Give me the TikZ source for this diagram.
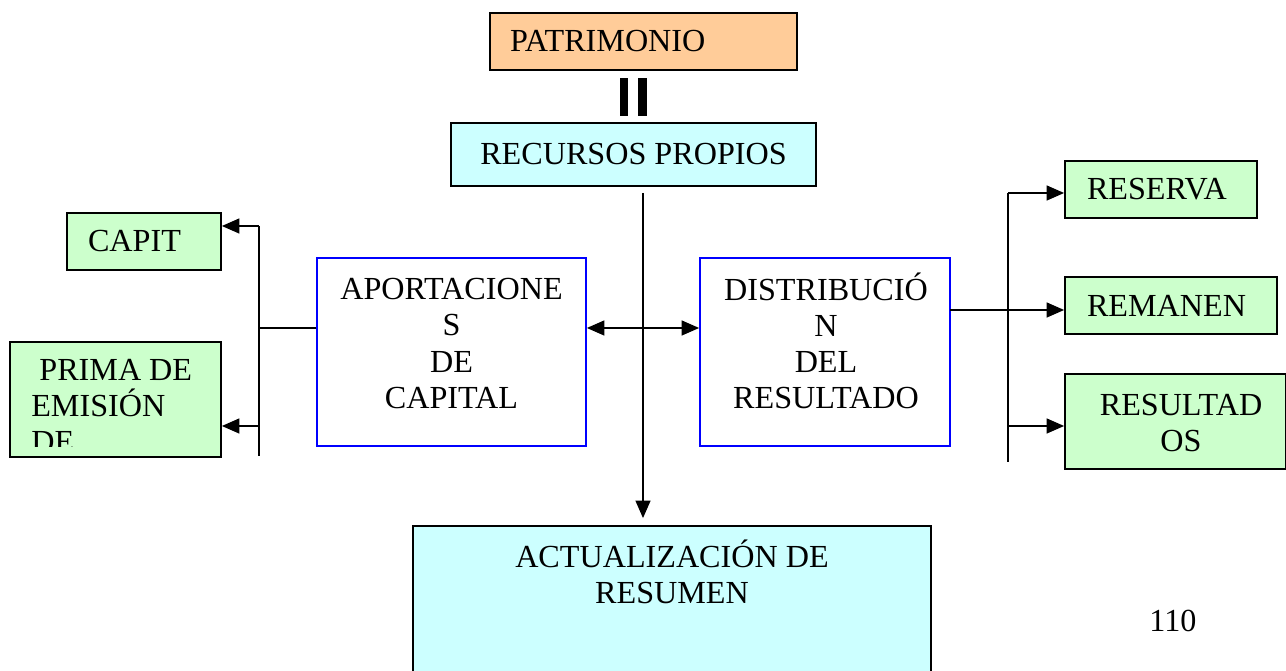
\documentclass[tikz,border=0pt]{standalone}
\usepackage{fontspec}
\setmainfont{Liberation Serif}
\usetikzlibrary{arrows.meta, positioning}
\definecolor{patrifill}{HTML}{FFCC99}
\definecolor{cianfill}{HTML}{CCFFFF}
\definecolor{verdefill}{HTML}{CCFFCC}
\tikzset{>={Triangle[length=10pt,width=8.5pt]}}
\tikzset{
  caja/.style={draw, line width=1pt, inner sep=0pt, font=\fontsize{18.3}{20.6}\selectfont},
  verde/.style={caja, fill=verdefill},
  azul/.style={draw=blue, line width=1pt, fill=white, inner sep=0pt},
  texto/.style={inner sep=0pt, align=center, font=\fontsize{18.3}{20.6}\selectfont},
  linea/.style={line width=1pt}
}

\begin{document}
\begin{tikzpicture}[x=0.02cm, y=-0.02cm]
    \useasboundingbox (0,0) rectangle (1286,671);

    % top
    \node[caja, fill=patrifill, minimum width=6.14cm, minimum height=1.14cm, text width=5.34cm, align=left] (patri) at (643.5,41.5) {PATRIMONIO};
    \fill (620,78) rectangle (628,116);
    \fill (638,78) rectangle (647,116);
    \node[caja, fill=cianfill, minimum width=7.3cm, minimum height=1.26cm] (recursos) at (633.5,154.5) {RECURSOS PROPIOS};

    % middle
    \node[azul, minimum width=5.38cm, minimum height=3.76cm] (aport) at (451.5,352) {};
    \node[texto] (aporttxt) at (451.5,343.5) {APORTACIONE\\S\\DE\\CAPITAL};
    \node[azul, minimum width=5cm, minimum height=3.76cm] (distrib) at (825,352) {};
    \node[texto] (distribtxt) at (826,341) {DISTRIBUCIÓ\\N\\DEL\\RESULTADO};

    % left
    \node[verde, minimum width=3.08cm, minimum height=1.14cm, text width=2.24cm, align=left] (capit) at (144,241.5) {CAPIT};
    \node[verde, minimum width=4.22cm, minimum height=2.3cm] (prima) at (115.5,399.5) {};
    \begin{scope}
    \clip (10,342) rectangle (221,447);
    \node[texto, align=left, anchor=north west] (primatxt) at (31,359) {\hspace*{0.25em}PRIMA DE\\EMISIÓN\\DE};
    \end{scope}

    % right
    \node[verde, minimum width=3.84cm, minimum height=1.14cm, text width=2.96cm, align=left] (reserva) at (1161,189.5) {RESERVA};
    \node[verde, minimum width=4.24cm, minimum height=1.14cm, text width=3.36cm, align=left] (remanen) at (1171,305.5) {REMANEN};
    \node[verde, minimum width=4.42cm, minimum height=1.9cm] (resultados) at (1175.5,421.5) {};
    \node[texto] (resultxt) at (1181,423) {RESULTAD\\OS};

    % bottom
    \node[caja, fill=cianfill, minimum width=10.36cm, minimum height=3.48cm] (actual) at (672,613) {};
    \node[texto] (actualtxt) at (672,572) {ACTUALIZACIÓN DE\\RESUMEN};
    \node[texto] (pagina) at (1173,621) {110};

    \coordinate (tronco) at (643,193);
    \coordinate (cruce) at (643,328);
    \coordinate (izqarriba) at (259,226);
    \coordinate (izqprima) at (259,426);
    \coordinate (izqabajo) at (259,456);
    \coordinate (salida) at (950,310);
    \coordinate (derarriba) at (1008,193);
    \coordinate (derresult) at (1008,426);
    \coordinate (derabajo) at (1008,462);

    \draw[linea, ->, shorten >=4pt] (tronco) -- (tronco |- actual.north);
    \draw[linea, <->] (aport.east |- cruce) -- (distrib.west |- cruce);

    \draw[linea] (aport.west |- cruce) -- (izqarriba |- cruce);
    \draw[linea] (izqarriba) -- (izqabajo);
    \draw[linea, ->] (izqarriba) -- (capit.east |- izqarriba);
    \draw[linea, ->] (izqprima) -- (prima.east |- izqprima);

    \draw[linea, ->] (salida) -- (remanen.west |- salida);
    \draw[linea] (derarriba) -- (derabajo);
    \draw[linea, ->] (derarriba) -- (reserva.west |- derarriba);
    \draw[linea, ->] (derresult) -- (resultados.west |- derresult);

\end{tikzpicture}
\end{document}
